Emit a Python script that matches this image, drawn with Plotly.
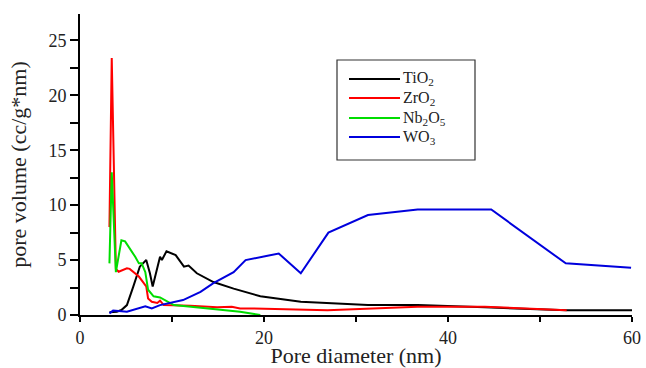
import plotly.graph_objects as go

# TiO2
ti_x = [3.2, 4.0, 4.5, 5.1, 5.8, 6.5, 7.2, 7.6, 7.9, 8.4, 8.7, 8.9, 9.4, 10.4, 11.3, 11.8, 12.7, 14.5, 16.7, 19.6, 24.0, 31.3, 36.7, 44.0, 52.9, 60.0]
ti_y = [0.25, 0.3, 0.45, 0.9, 2.6, 4.4, 5.0, 3.8, 2.6, 4.4, 5.3, 5.0, 5.8, 5.45, 4.4, 4.5, 3.8, 3.0, 2.4, 1.7, 1.2, 0.9, 0.9, 0.7, 0.43, 0.43]
# ZrO2
zr_x = [3.2, 3.45, 3.9, 4.2, 5.1, 5.4, 6.4, 7.2, 7.4, 7.8, 8.4, 8.7, 9.1, 12.0, 14.9, 16.5, 17.4, 18.5, 26.9, 36.7, 44.0, 52.9]
zr_y = [8.0, 23.4, 4.2, 3.94, 4.25, 4.2, 3.5, 2.6, 1.5, 1.2, 1.1, 1.3, 0.9, 0.85, 0.7, 0.75, 0.6, 0.6, 0.43, 0.75, 0.75, 0.43]
# Nb2O5
nb_x = [3.2, 3.45, 3.9, 4.5, 4.9, 5.45, 6.0, 6.4, 6.7, 7.1, 7.4, 8.0, 8.7, 10.2, 12.4, 14.9, 17.4, 19.6]
nb_y = [4.7, 13.0, 3.9, 6.8, 6.7, 6.05, 5.3, 4.7, 4.7, 3.9, 2.3, 1.7, 1.6, 0.9, 0.7, 0.5, 0.3, 0.0]
# WO3
wo_x = [3.2, 3.6, 5.1, 7.1, 7.8, 8.7, 11.2, 13.1, 14.5, 16.7, 18.0, 21.6, 24.0, 27.0, 31.3, 36.7, 44.7, 52.8, 59.9]
wo_y = [0.15, 0.4, 0.3, 0.8, 0.6, 0.9, 1.36, 2.1, 2.9, 3.9, 5.0, 5.6, 3.8, 7.5, 9.1, 9.6, 9.6, 4.7, 4.3]

x_ticks = [0, 20, 40, 60]
y_ticks = [0, 5, 10, 15, 20, 25]

series = [
    ("TiO<sub>2</sub>", ti_x, ti_y, "#000000"),
    ("ZrO<sub>2</sub>", zr_x, zr_y, "#ff0000"),
    ("Nb<sub>2</sub>O<sub>5</sub>", nb_x, nb_y, "#00dd00"),
    ("WO<sub>3</sub>", wo_x, wo_y, "#0000dd"),
]

W, H = 646, 368
L, R, T, B = 80, 14, 14, 53
pw, ph = W - L - R, H - T - B

def px(xp):
    return (xp - L) / pw

def py(yp):
    return (H - B - yp) / ph

font = "Liberation Serif, Times New Roman, serif"

fig = go.Figure()
shapes = [dict(type="rect", xref="paper", yref="paper",
               x0=px(337), x1=px(475), y0=py(160), y1=py(60),
               line=dict(color="#333", width=1.2), fillcolor="white", layer="below")]
annotations = []
legend_y = [79, 98, 118, 137]
for (name, xs, ys, col), ly in zip(series, legend_y):
    fig.add_trace(go.Scatter(x=xs, y=ys, mode="lines", name=name,
                             line=dict(color=col, width=2)))
    shapes.append(dict(type="line", xref="paper", yref="paper",
                       x0=px(349), x1=px(400), y0=py(ly), y1=py(ly),
                       line=dict(color=col, width=2)))
    annotations.append(dict(xref="paper", yref="paper", x=px(401), y=py(ly),
                            xanchor="left", yanchor="middle", showarrow=False,
                            text=name, font=dict(family=font, size=16, color="#222")))

fig.update_layout(
    width=W, height=H,
    margin=dict(l=L, r=R, t=T, b=B),
    paper_bgcolor="white", plot_bgcolor="white",
    font=dict(family=font, size=18, color="#222"),
    showlegend=False,
    shapes=shapes, annotations=annotations,
    xaxis=dict(range=[0, 60], tickvals=x_ticks, showgrid=False, zeroline=False,
               showline=True, linecolor="#000", linewidth=2, automargin=False,
               ticks="outside", ticklen=5, tickwidth=2, tickcolor="#000",
               minor=dict(dtick=10, ticks="outside", ticklen=5, tickwidth=2, tickcolor="#000"),
               title=dict(text="Pore diameter (nm)", standoff=5),
               tickfont=dict(size=18)),
    yaxis=dict(range=[0, 27.4], tickvals=y_ticks, showgrid=False, zeroline=False,
               showline=True, linecolor="#000", linewidth=2, automargin=False,
               ticks="outside", ticklen=8, tickwidth=2, tickcolor="#000",
               minor=dict(tickvals=[2.5, 7.5, 12.5, 17.5, 22.5], ticks="outside", ticklen=8, tickwidth=2, tickcolor="#000"),
               title=dict(text="pore volume (cc/g*nm)", standoff=16),
               tickfont=dict(size=18)),
)

fig.write_html("out.html")
